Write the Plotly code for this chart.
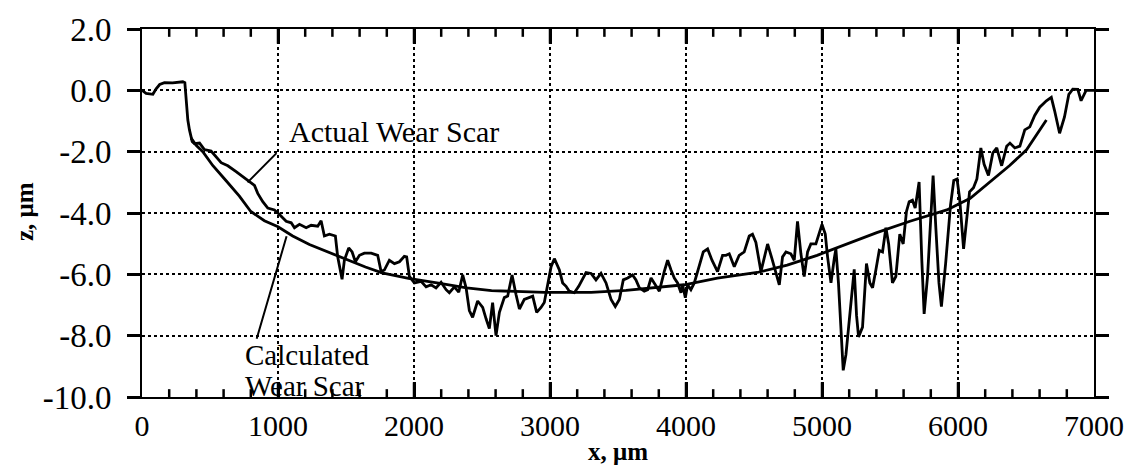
import plotly.graph_objects as go

# ---- data ----
actual_x = [0, 30, 80, 104, 130, 165, 225, 300, 315, 325, 337, 349, 369, 386, 423, 459, 508, 582, 631, 692,
            766, 827, 851, 888, 925, 974, 1011, 1060, 1097, 1121, 1158, 1207, 1244, 1292, 1317, 1341, 1378,
            1422, 1439, 1471, 1488, 1520, 1545, 1569, 1599, 1635, 1685, 1733, 1758, 1782, 1819, 1856, 1893,
            1929, 1946, 1966, 2003, 2052, 2089, 2126, 2162, 2199, 2236, 2260, 2297, 2329, 2358, 2383, 2407,
            2431, 2468, 2505, 2530, 2554, 2578, 2603, 2628, 2664, 2689, 2721, 2750, 2775, 2811, 2848, 2873,
            2902, 2934, 2958, 2983, 3008, 3032, 3069, 3093, 3118, 3142, 3179, 3211, 3235, 3265, 3302, 3338,
            3375, 3412, 3449, 3480, 3510, 3539, 3571, 3607, 3632, 3657, 3693, 3718, 3743, 3767, 3804, 3840,
            3865, 3890, 3914, 3938, 3963, 3975, 3995, 4012, 4036, 4061, 4098, 4127, 4159, 4191, 4232, 4269,
            4294, 4318, 4355, 4391, 4428, 4465, 4489, 4514, 4551, 4575, 4600, 4632, 4661, 4686, 4710, 4735,
            4771, 4796, 4820, 4845, 4869, 4894, 4918, 4955, 5000, 5024, 5041, 5066, 5090, 5102, 5121, 5139,
            5156, 5176, 5200, 5237, 5254, 5269, 5298, 5327, 5352, 5372, 5396, 5421, 5445, 5470, 5490, 5518,
            5543, 5572, 5597, 5621, 5641, 5665, 5685, 5714, 5734, 5751, 5776, 5800, 5817, 5837, 5860, 5878,
            5909, 5945, 5969, 5993, 6012, 6041, 6060, 6085, 6114, 6139, 6168, 6192, 6224, 6256, 6285, 6321,
            6358, 6382, 6418, 6455, 6491, 6528, 6564, 6601, 6650, 6686, 6710, 6747, 6783, 6815, 6844, 6881,
            6905, 6942, 7000]
actual_z = [0.0, -0.10, -0.13, 0.05, 0.19, 0.25, 0.24, 0.28, 0.25, -0.34, -0.97, -1.29, -1.67, -1.74, -1.72,
            -1.93, -1.98, -2.36, -2.46, -2.65, -2.89, -3.10, -3.36, -3.63, -3.84, -3.90, -4.05, -4.27, -4.32,
            -4.48, -4.37, -4.48, -4.40, -4.43, -4.25, -4.75, -4.69, -4.75, -5.43, -6.16, -5.54, -5.14, -5.27,
            -5.59, -5.38, -5.31, -5.31, -5.38, -5.91, -5.86, -5.54, -5.65, -5.59, -5.41, -5.43, -6.07, -6.28,
            -6.23, -6.41, -6.34, -6.44, -6.26, -6.50, -6.60, -6.41, -6.58, -6.02, -6.44, -7.18, -7.40, -6.87,
            -7.08, -7.45, -7.77, -6.92, -8.00, -7.24, -6.76, -6.71, -6.02, -6.66, -7.13, -6.82, -6.76, -6.71,
            -7.24, -7.08, -6.92, -6.28, -5.75, -5.49, -5.86, -6.28, -6.39, -6.55, -6.60, -6.39, -6.18, -5.94,
            -5.97, -6.18, -5.97, -6.28, -6.82, -7.05, -6.82, -6.18, -6.12, -6.02, -6.18, -6.44, -6.55, -6.50,
            -6.12, -6.28, -6.55, -5.91, -5.54, -5.86, -6.12, -6.28, -6.60, -6.34, -6.76, -6.34, -6.50, -6.28,
            -5.75, -5.27, -5.17, -5.54, -5.91, -5.38, -5.38, -5.33, -5.75, -5.38, -5.27, -4.75, -4.69, -4.96,
            -5.91, -5.43, -5.01, -5.49, -5.97, -6.34, -5.43, -5.27, -5.33, -5.54, -4.27, -5.33, -6.07, -5.27,
            -5.01, -5.01, -4.37, -4.69, -5.43, -6.28, -5.49, -5.17, -6.28, -7.77, -9.13, -8.62, -7.45, -5.84,
            -7.34, -8.04, -7.72, -5.65, -6.28, -6.44, -5.86, -5.22, -5.27, -4.48, -5.01, -6.28, -6.07, -4.69,
            -5.01, -3.95, -3.63, -3.58, -3.84, -2.99, -5.54, -7.29, -6.07, -3.95, -2.78, -4.48, -6.28, -7.05,
            -5.65, -3.74, -2.94, -2.89, -3.52, -5.17, -4.27, -3.31, -3.18, -2.89, -1.88, -2.41, -2.78, -2.04,
            -1.88, -2.46, -1.82, -1.72, -1.88, -1.82, -1.29, -1.19, -0.82, -0.55, -0.34, -0.23, -0.66, -1.40,
            -0.87, -0.13, 0.04, 0.03, -0.34, 0.0, 0.0]

calc_x = [361, 400, 447, 520, 617, 716, 800, 900, 1000, 1108, 1231, 1380, 1520, 1643, 1765, 1960, 2180,
          2387, 2570, 2961, 3303, 3559, 3987, 4231, 4524, 4744, 4964, 5159, 5403, 5647, 5918, 6090, 6248,
          6380, 6504, 6626, 6650]
calc_z = [-1.56, -1.80, -2.00, -2.45, -2.94, -3.45, -3.95, -4.25, -4.45, -4.75, -5.03, -5.30, -5.55, -5.76,
          -5.95, -6.13, -6.29, -6.44, -6.53, -6.59, -6.59, -6.52, -6.34, -6.12, -5.94, -5.70, -5.38, -5.06,
          -4.64, -4.27, -3.90, -3.52, -2.94, -2.45, -1.94, -1.13, -0.97]

y_ticks = [2, 0, -2, -4, -6, -8, -10]
y_ticktext = ["2.0", "0.0", "-2.0", "-4.0", "-6.0", "-8.0", "-10.0"]

X_MIN, X_MAX, X_MAJOR, X_MINOR = 0, 7000, 1000, 200
Y_MIN, Y_MAX = -10, 2

W, H = 1136, 467
MARGIN = dict(l=142, r=38, t=21, b=70)
SERIF = "Liberation Serif"

fig = go.Figure()
fig.add_trace(go.Scatter(x=calc_x, y=calc_z, mode="lines", line=dict(color="black", width=2.8),
                         name="Calculated Wear Scar", showlegend=False))
fig.add_trace(go.Scatter(x=actual_x, y=actual_z, mode="lines", line=dict(color="black", width=2.8),
                         name="Actual Wear Scar", showlegend=False))

# inward tick marks on the bottom and top frame (minor every 200 µm, major every 1000 µm),
# lengths given in pixels and converted with the y-axis scale
units_per_px = (Y_MAX - Y_MIN) / (H - MARGIN["t"] - MARGIN["b"])
tick_x, tick_y = [], []
for v in range(X_MIN + X_MINOR, X_MAX, X_MINOR):
    d = (15 if v % X_MAJOR == 0 else 8) * units_per_px
    tick_x += [v, v, None, v, v, None]
    tick_y += [Y_MIN, Y_MIN + d, None, Y_MAX, Y_MAX - d, None]
fig.add_trace(go.Scatter(x=tick_x, y=tick_y, mode="lines", line=dict(color="black", width=2.5),
                         hoverinfo="skip", showlegend=False, connectgaps=False))

grid = dict(showgrid=True, gridcolor="black", griddash="dot", gridwidth=2, zeroline=False)

fig.update_layout(
    xaxis=dict(range=[X_MIN, X_MAX], tickmode="linear", tick0=0, dtick=X_MAJOR, tickformat="d",
               ticks="inside", ticklen=15, tickwidth=2.5, tickcolor="black", ticklabelstandoff=1,
               showline=True, linecolor="black", linewidth=2, mirror="ticks",
               tickfont=dict(family=SERIF, size=30, color="black"), **grid),
    yaxis=dict(range=[Y_MIN, Y_MAX], tickmode="array", tickvals=y_ticks, ticktext=y_ticktext,
               ticks="outside", ticklen=13, tickwidth=2.5, tickcolor="black", ticklabelstandoff=9,
               showline=True, linecolor="black", linewidth=2, mirror="ticks",
               tickfont=dict(family=SERIF, size=33, color="black"), **grid),
)

annotations = [
    # labels
    dict(text="Actual Wear Scar", x=1064, y=-1.35, xref="x", yref="y", xanchor="left", yanchor="middle",
         showarrow=False, font=dict(family=SERIF, size=30, color="black")),
    dict(text="Calculated", x=740, y=-8.62, xref="x", yref="y", xanchor="left", yanchor="middle",
         showarrow=False, font=dict(family=SERIF, size=29, color="black")),
    dict(text="Wear Scar", x=740, y=-9.65, xref="x", yref="y", xanchor="left", yanchor="middle",
         showarrow=False, font=dict(family=SERIF, size=29, color="black")),
    # leader lines
    dict(text="", x=776, y=-3.0, ax=1000, ay=-2.0, xref="x", yref="y", axref="x", ayref="y",
         showarrow=True, arrowhead=0, arrowwidth=2, arrowcolor="black"),
    dict(text="", x=1063, y=-4.76, ax=840, ay=-8.15, xref="x", yref="y", axref="x", ayref="y",
         showarrow=True, arrowhead=0, arrowwidth=2, arrowcolor="black"),
    # axis titles
    dict(text="<b>x, μm</b>", x=0.5, y=-0.148, xref="paper", yref="paper", xanchor="center",
         yanchor="middle", showarrow=False, font=dict(family=SERIF, size=25, color="black")),
    dict(text="<b>z, μm</b>", x=-0.124, y=0.505, xref="paper", yref="paper", xanchor="center",
         yanchor="middle", textangle=-90, showarrow=False, font=dict(family=SERIF, size=25, color="black")),
]

fig.update_layout(width=W, height=H, margin=MARGIN,
                  paper_bgcolor="white", plot_bgcolor="white", annotations=annotations,
                  showlegend=False)

fig.write_html("out.html")
